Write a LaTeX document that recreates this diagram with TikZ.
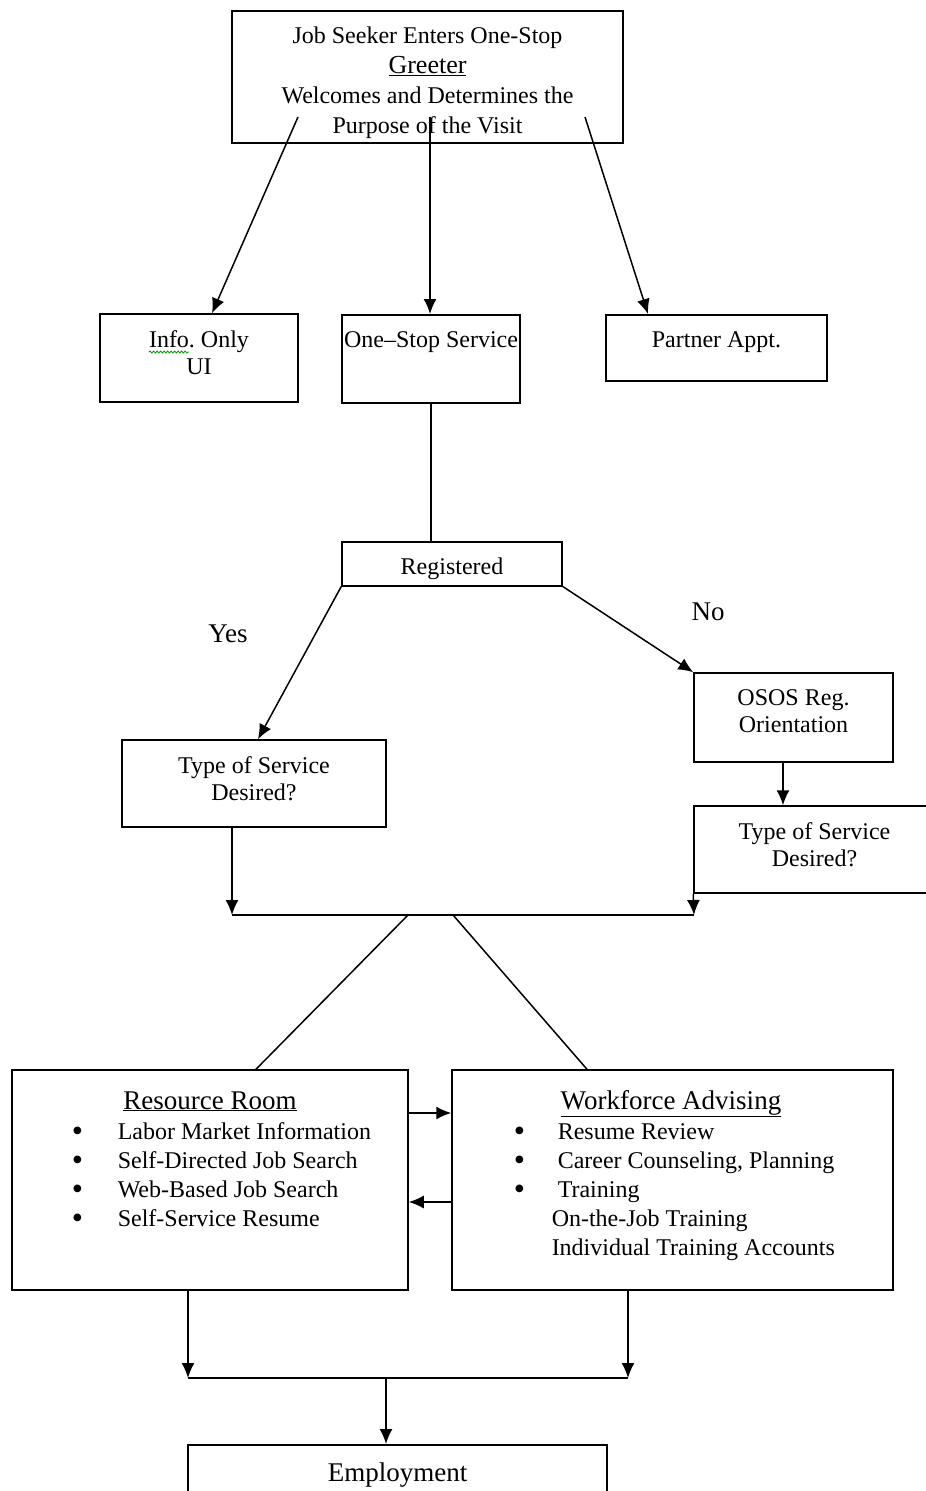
\documentclass[tikz,border=0pt]{standalone}
\usepackage{fontspec}
\setmainfont{Liberation Serif}
\usetikzlibrary{arrows.meta, positioning, decorations.pathmorphing}
\tikzstyle{block} = [rectangle, 
			draw, 
			text centered, 
			align=center,
			inner sep=0pt]
\tikzstyle{txt} = [align=center, inner sep=0pt, font=\fontsize{24}{27}\selectfont]
\tikzstyle{line} = [draw, -{Latex[length=15pt, width=13pt]}]
\tikzstyle{plain} = [draw]
\tikzstyle{title} = [font=\fontsize{27}{32}\selectfont, inner sep=0pt]
\tikzstyle{items} = [anchor=north west, inner sep=0pt]
\newcommand{\itembullet}[1]{\makebox[#1][l]{\raisebox{-2pt}{\fontsize{32}{29}\selectfont\textbullet}}}

\begin{document}
\begin{tikzpicture}[x=1pt, y=-1pt, line width=1.5pt, font=\fontsize{24}{29}\selectfont]
	\useasboundingbox (0,0) rectangle (926,1491);
	% top of the chart
	\node [block, minimum width=391pt, minimum height=132pt] (greeter) at (427.5,77) {};
	\node [txt, font=\fontsize{24}{30}\selectfont] (greeterText) at ([yshift=-5.5pt]greeter.center) {Job Seeker Enters One-Stop\\{\fontsize{26}{30}\selectfont\underline{Greeter}}\\Welcomes and Determines the\\Purpose of the Visit};
	\node [block, minimum width=198pt, minimum height=88pt] (info) at (199,358) {};
	\node [txt] (infoText) at ([yshift=5.5pt]info.center) {Info.\ Only\\UI};
	\node [block, anchor=north, minimum width=178pt, text height=33pt, text depth=55pt] (oneStop) at (431,314) {One–Stop Service};
	\node [block, anchor=north, minimum width=221pt, text height=33pt, text depth=33pt] (partner) at (716.5,314) {Partner Appt.};
	\draw [green!60!black, line width=0.8pt, decorate, decoration={snake, amplitude=1pt, segment length=3.5pt}] (149,352) -- (189,352);
	\coordinate (gL) at (298,117);
	\coordinate (gC) at (430,117);
	\coordinate (gR) at (585,117);
	\path [line] (gL) -- ([xshift=13pt]info.north);
	\path [line] (gC) -- (gC |- oneStop.north);
	\path [line] (gR) -- ([xshift=-68.5pt]partner.north);
	% registration
	\node [block, anchor=north, minimum width=220pt, text height=33pt, text depth=11pt] (reg) at (452,541) {Registered};
	\path [plain] (oneStop.south) -- (oneStop.south |- reg.north);
	\node [title] (yes) at (228,634) {Yes};
	\node [title] (no) at (708,612) {No};
	\node [block, minimum width=264pt, minimum height=87pt] (typeL) at (254,783.5) {};
	\node [txt] (typeLText) at ([yshift=5pt]typeL.center) {Type of Service\\Desired?};
	\node [block, minimum width=199pt, minimum height=89pt] (osos) at (793.5,717.5) {};
	\node [txt] (ososText) at ([yshift=6pt]osos.center) {OSOS Reg.\\Orientation};
	\node [block, minimum width=241pt, minimum height=87pt] (typeR) at (814.5,849.5) {};
	\node [txt] (typeRText) at ([yshift=5pt]typeR.center) {Type of Service\\Desired?};
	\path [line] (reg.south west) -- ([xshift=4pt]typeL.north);
	\path [line] (reg.south east) -- (osos.north west);
	\coordinate (oDown) at ([xshift=-10.5pt]osos.south);
	\path [line] (oDown) -- (oDown |- typeR.north);
	\coordinate (mergeL) at (232,915);
	\coordinate (mergeR) at (694,915);
	\path [line] (mergeL |- typeL.south) -- (mergeL);
	\path [line] (typeR.south west) -- (mergeR);
	\path [plain] (mergeL) -- (mergeR);
	% services
	\node [block, minimum width=396pt, minimum height=220pt] (rr) at (210,1180) {};
	\node [block, minimum width=441pt, minimum height=220pt] (wa) at (672.5,1180) {};
	\node [title, anchor=base] (rrTitle) at (210,1109) {\underline{Resource Room}};
	\node [title, anchor=base] (waTitle) at (671,1109) {\underline{Workforce Advising}};
	\node [items] (rrList) at (71,1118.7) {\begin{tabular}{@{}l@{}}
		\itembullet{46pt}Labor Market Information\\
		\itembullet{46pt}Self-Directed Job Search\\
		\itembullet{46pt}Web-Based Job Search\\
		\itembullet{46pt}Self-Service Resume
	\end{tabular}};
	\node [items] (waList) at (513,1118.7) {\begin{tabular}{@{}l@{}}
		\itembullet{44pt}Resume Review\\
		\itembullet{44pt}Career Counseling, Planning\\
		\itembullet{44pt}Training\\
		\hspace*{38pt}On-the-Job Training\\
		\hspace*{38pt}Individual Training Accounts
	\end{tabular}};
	\coordinate (splitL) at (408,915);
	\coordinate (splitR) at (453,915);
	\path [plain] (splitL) -- ([xshift=46pt]rr.north);
	\path [plain] (splitR) -- ([xshift=-85.5pt]wa.north);
	\path [line] ([yshift=67pt]rr.east) -- ([yshift=67pt]wa.west);
	\path [line] ([yshift=-22pt]wa.west) -- ([yshift=-22pt]rr.east);
	% employment
	\node [block, anchor=north, minimum width=419pt, text height=37pt, text depth=60pt, font=\fontsize{27}{32}\selectfont] (emp) at (397.5,1444) {Employment};
	\coordinate (joinL) at (188,1378);
	\coordinate (joinR) at (628,1378);
	\coordinate (joinC) at (386,1378);
	\path [line] (joinL |- rr.south) -- (joinL);
	\path [line] (joinR |- wa.south) -- (joinR);
	\path [plain] (joinL) -- (joinR);
	\path [line] (joinC) -- (joinC |- emp.north);
\end{tikzpicture}
\end{document}
